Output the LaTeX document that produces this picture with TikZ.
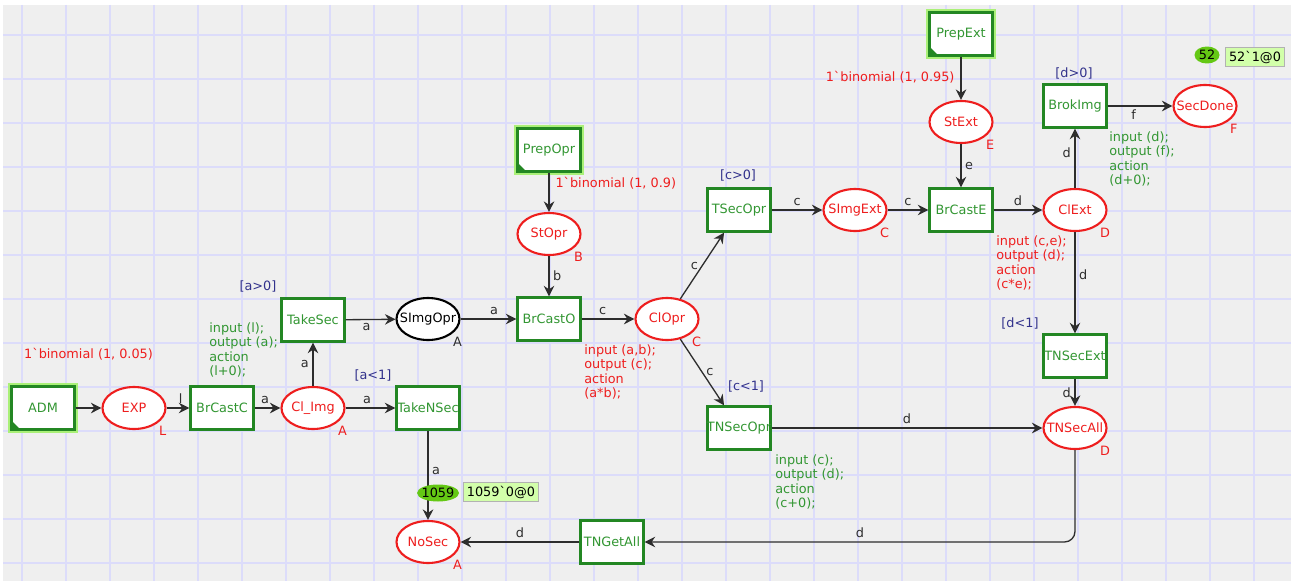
\documentclass[tikz,border=0pt]{standalone}
\usepackage{fontspec}
\setmainfont{DejaVu Sans}
\usetikzlibrary{shapes.geometric,arrows.meta}
\definecolor{bgray}{RGB}{239,239,239}
\definecolor{gridc}{RGB}{220,220,250}
\definecolor{petgreen}{RGB}{35,135,35}
\definecolor{txtgreen}{RGB}{50,150,50}
\definecolor{petred}{RGB}{238,30,30}
\definecolor{guardblue}{RGB}{50,50,140}
\definecolor{arcgray}{RGB}{45,45,45}
\definecolor{glowgreen}{RGB}{170,240,120}
\definecolor{tokgreen}{RGB}{100,200,20}
\definecolor{tokbox}{RGB}{210,255,170}
\tikzset{
  fixw/.style={execute at begin node={\setbox0=\hbox\bgroup},
    execute at end node={\egroup\hbox to 0pt{\hss\box0\hss}}},
  trans/.style={draw=petgreen, fill=white, line width=1.3pt, minimum width=1.26cm,
    minimum height=0.86cm, inner sep=0pt, text=txtgreen, fixw},
  fusetrans/.style={trans, preaction={draw=glowgreen, line width=4pt},
    path picture={\fill[petgreen] (path picture bounding box.south west)
      -- ++(5pt,0pt) -- ++(-5pt,5pt) -- cycle;}},
  place/.style={ellipse, draw=petred, fill=white, line width=1.2pt, minimum width=1.26cm,
    minimum height=0.84cm, inner sep=0pt, text=petred, fixw},
  arc/.style={draw=arcgray, line width=0.75pt, -{Stealth[length=6pt,width=6pt,inset=2pt]}},
  ins/.style={text=arcgray, inner sep=2pt},
  guard/.style={text=guardblue, inner sep=0pt},
  code/.style={anchor=north west, align=left, inner sep=0pt},
  colset/.style={anchor=north west, inner sep=1pt, text=petred},
  tokell/.style={ellipse, fill=tokgreen, minimum width=0.84cm, minimum height=0.34cm,
    inner sep=0pt, fixw},
  tokmark/.style={fill=tokbox, draw=gray!60, inner sep=2pt}
}
\begin{document}
\begin{tikzpicture}[x=0.02cm, y=-0.02cm, font=\fontsize{7.3}{8.3}\selectfont]
\useasboundingbox (0,0) rectangle (1291,581);
% background grid
\fill[white] (0,0) rectangle (1291,581);
\fill[bgray] (3,5) rectangle (1291,581);
\foreach \gx in {22,66,...,1254} \draw[gridc, line width=0.7pt] (\gx,5) -- (\gx,581);
\foreach \gy in {35,79,...,563} \draw[gridc, line width=0.7pt] (3,\gy) -- (1291,\gy);

% places and transitions
\node[fusetrans] (ADM) at (43,408) {ADM};
\node[place] (EXP) at (134,408) {EXP};
\node[trans] (BrCastC) at (222,408) {BrCastC};
\node[place] (ClImg) at (313,408) {Cl\_Img};
\node[trans] (TakeSec) at (313,320) {TakeSec};
\node[place, draw=black, text=black] (SImgOpr) at (428,319) {SImgOpr};
\node[trans] (TakeNSec) at (428,408) {TakeNSec};
\node[fusetrans] (PrepOpr) at (549,150) {PrepOpr};
\node[place] (StOpr) at (549,234) {StOpr};
\node[trans] (BrCastO) at (549,319) {BrCastO};
\node[place] (ClOpr) at (667,319) {ClOpr};
\node[trans] (TSecOpr) at (739,210) {TSecOpr};
\node[trans] (TNSecOpr) at (739,428) {TNSecOpr};
\node[place] (SImgExt) at (855,210) {SImgExt};
\node[trans] (BrCastE) at (961,210) {BrCastE};
\node[fusetrans] (PrepExt) at (961,34) {PrepExt};
\node[place] (StExt) at (961,122) {StExt};
\node[place] (ClExt) at (1075,210) {ClExt};
\node[trans] (BrokImg) at (1075,106) {BrokImg};
\node[place] (SecDone) at (1205,106) {SecDone};
\node[trans] (TNSecExt) at (1075,356) {TNSecExt};
\node[place] (TNSecAll) at (1075,428) {TNSecAll};
\node[trans] (TNGetAll) at (612,542) {TNGetAll};
\node[place] (NoSec) at (428,542) {NoSec};

% colour sets
\node[colset] (csEXP) at (EXP.south east) {L};
\node[colset] (csClImg) at (ClImg.south east) {A};
\node[colset, text=arcgray] (csSImgOpr) at (SImgOpr.south east) {A};
\node[colset] (csStOpr) at (StOpr.south east) {B};
\node[colset] (csClOpr) at (ClOpr.south east) {C};
\node[colset] (csSImgExt) at (SImgExt.south east) {C};
\node[colset] (csClExt) at (ClExt.south east) {D};
\node[colset] (csStExt) at (StExt.south east) {E};
\node[colset] (csSecDone) at (SecDone.south east) {F};
\node[colset] (csTNSecAll) at (TNSecAll.south east) {D};
\node[colset] (csNoSec) at (NoSec.south east) {A};

% guards
\node[guard] (gTakeSec) at (258,286) {[a>0]};
\node[guard] (gTakeNSec) at (373,375) {[a<1]};
\node[guard] (gTSecOpr) at (738,175) {[c>0]};
\node[guard] (gTNSecOpr) at (746,386) {[c<1]};
\node[guard] (gBrokImg) at (1074,73) {[d>0]};
\node[guard] (gTNSecExt) at (1020,323) {[d<1]};

% code segments
\node[code, text=txtgreen] (cBrCastC) at (209,322) {input (l);\\output (a);\\action\\(l+0);};
\node[code, text=petred] (cBrCastO) at (584,344) {input (a,b);\\output (c);\\action\\(a*b);};
\node[code, text=txtgreen] (cTNSecOpr) at (775,454) {input (c);\\output (d);\\action\\(c+0);};
\node[code, text=petred] (cBrCastE) at (996,235) {input (c,e);\\output (d);\\action\\(c*e);};
\node[code, text=txtgreen] (cBrokImg) at (1109,131) {input (d);\\output (f);\\action\\(d+0);};

% arcs
\draw[arc] (ADM) -- (EXP) node[midway, above=0.82cm, text=petred] {1\textasciigrave binomial (1, 0.05)};
\draw[arc] (EXP) -- (BrCastC) node[ins, pos=0.62, above] {l};
\draw[arc] (BrCastC) -- (ClImg) node[ins, pos=0.4, above] {a};
\draw[arc] (ClImg) -- (TakeNSec) node[ins, pos=0.43, above] {a};
\draw[arc] (ClImg) -- (TakeSec) node[ins, midway, left] {a};
\draw[arc] (TakeSec) -- (SImgOpr) node[ins, pos=0.42, below] {a};
\draw[arc] (SImgOpr) -- (BrCastO) node[ins, pos=0.6, above] {a};
\draw[arc] (PrepOpr) -- (StOpr) node[pos=0.27, right, text=petred] {1\textasciigrave binomial (1, 0.9)};
\draw[arc] (StOpr) -- (BrCastO) node[ins, midway, right] {b};
\draw[arc] (BrCastO) -- (ClOpr) node[ins, pos=0.4, above] {c};
\draw[arc] (ClOpr) -- (TSecOpr) node[ins, midway, left] {c};
\draw[arc] (ClOpr) -- (TNSecOpr) node[ins, midway, right] {c};
\draw[arc] (TSecOpr) -- (SImgExt) node[ins, midway, above] {c};
\draw[arc] (SImgExt) -- (BrCastE) node[ins, midway, above] {c};
\draw[arc] (PrepExt) -- (StExt) node[pos=0.48, left, text=petred] {1\textasciigrave binomial (1, 0.95)};
\draw[arc] (StExt) -- (BrCastE) node[ins, midway, right] {e};
\draw[arc] (BrCastE) -- (ClExt) node[ins, midway, above] {d};
\draw[arc] (ClExt) -- (BrokImg) node[ins, pos=0.6, left] {d};
\draw[arc] (BrokImg) -- (SecDone) node[ins, pos=0.4, below] {f};
\draw[arc] (ClExt) -- (TNSecExt) node[ins, pos=0.42, right] {d};
\draw[arc] (TNSecExt) -- (TNSecAll) node[ins, midway, left] {d};
\draw[arc] (TNSecOpr) -- (TNSecAll) node[ins, midway, above] {d};
\draw[arc] (TakeNSec) -- (NoSec) node[ins, pos=0.45, right] {a};
\draw[arc, rounded corners=6pt] (TNSecAll) |- (TNGetAll) node[ins, pos=0.75, above] {d};
\draw[arc] (TNGetAll) -- (NoSec) node[ins, midway, above] {d};

% markings
\node[tokell] (tNoSec) at (438,493) {1059};
\node[tokmark] (mNoSec) at (501,492) {1059\textasciigrave 0@0};
\node[tokell, minimum width=0.5cm] (tSecDone) at (1207,55) {52};
\node[tokmark] (mSecDone) at (1255,57) {52\textasciigrave 1@0};
\end{tikzpicture}
\end{document}
